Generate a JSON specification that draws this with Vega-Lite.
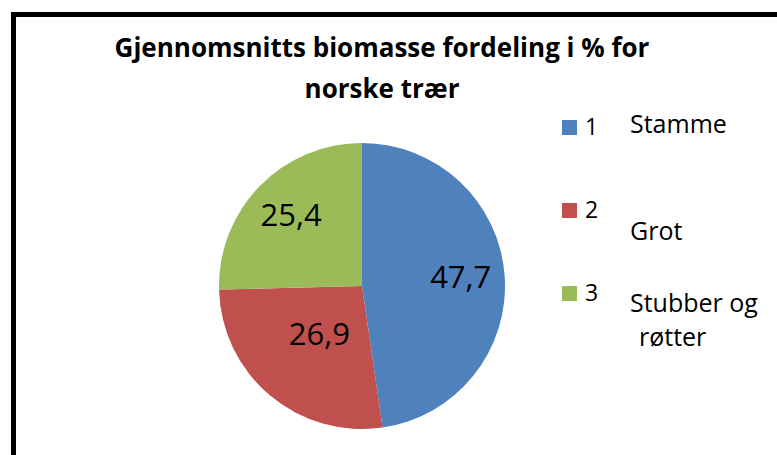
{
  "$schema": "https://vega.github.io/schema/vega-lite/v6.json",
  "autosize": {"type": "none"},
  "padding": {"left": 219, "top": 143, "right": 272, "bottom": 26},
  "width": 286,
  "height": 286,
  "background": "white",
  "title": {
    "text": ["Gjennomsnitts biomasse fordeling i % for", "norske trær"],
    "frame": "group",
    "font": "Open Sans",
    "fontSize": 26,
    "fontWeight": "bold",
    "color": "black",
    "lineHeight": 41,
    "anchor": "middle",
    "baseline": "alphabetic",
    "dx": 20,
    "offset": -112
  },
  "data": {
    "values": [
      {"n": "1", "name": "Stamme", "value": 47.7},
      {"n": "2", "name": "Grot", "value": 26.9},
      {"n": "3", "name": "Stubber og røtter", "value": 25.4}
    ]
  },
  "resolve": {"legend": {"fill": "independent", "shape": "independent", "strokeWidth": "independent"}},
  "layer": [
    {
      "mark": {"type": "arc", "outerRadius": 143},
      "encoding": {
        "theta": {"field": "value", "type": "quantitative", "stack": true},
        "order": {"field": "n", "type": "ordinal"},
        "fill": {
          "field": "n",
          "type": "nominal",
          "scale": {"domain": ["1", "2", "3"], "range": ["#4F81BD", "#C0504D", "#9BBB59"]},
          "legend": {
            "orient": "none",
            "legendX": 339,
            "legendY": -27,
            "title": null,
            "symbolType": "square",
            "symbolSize": 225,
            "symbolStrokeWidth": 0,
            "labelFont": "Open Sans",
            "labelFontSize": 23,
            "labelColor": "black",
            "labelOffset": 4,
            "rowPadding": 59
          }
        }
      }
    },
    {
      "mark": {"type": "text", "radius": 99, "font": "Open Sans", "fontSize": 31, "color": "black"},
      "encoding": {
        "theta": {"field": "value", "type": "quantitative", "stack": true},
        "order": {"field": "n", "type": "ordinal"},
        "text": {"condition": {"test": "datum.n !== '2'", "field": "value", "type": "quantitative", "format": ".1f"}, "value": ""}
      }
    },
    {
      "mark": {"type": "text", "radius": 66, "font": "Open Sans", "fontSize": 31, "color": "black"},
      "encoding": {
        "theta": {"field": "value", "type": "quantitative", "stack": true},
        "order": {"field": "n", "type": "ordinal"},
        "text": {"condition": {"test": "datum.n === '2'", "field": "value", "type": "quantitative", "format": ".1f"}, "value": ""}
      }
    },
    {
      "mark": {"type": "point", "opacity": 0, "color": "black"},
      "encoding": {
        "shape": {
          "field": "name",
          "type": "nominal",
          "sort": ["Stamme", "Grot", "Stubber og røtter"],
          "legend": {
            "orient": "none", "legendX": 386, "legendY": -31, "title": null,
            "values": ["Stamme"],
            "symbolSize": 1, "symbolOpacity": 0,
            "labelFont": "Open Sans", "labelFontSize": 25, "labelColor": "black",
            "labelOffset": 0, "labelLimit": 400
          }
        }
      }
    },
    {
      "mark": {"type": "point", "opacity": 0, "color": "black"},
      "encoding": {
        "shape": {
          "field": "name",
          "type": "nominal",
          "sort": ["Stamme", "Grot", "Stubber og røtter"],
          "legend": {
            "orient": "none", "legendX": 386, "legendY": 76, "title": null,
            "values": ["Grot"],
            "symbolSize": 1, "symbolOpacity": 0,
            "labelFont": "Open Sans", "labelFontSize": 25, "labelColor": "black",
            "labelOffset": 0, "labelLimit": 400
          }
        }
      }
    },
    {
      "mark": {"type": "point", "opacity": 0, "color": "black"},
      "encoding": {
        "shape": {
          "field": "name",
          "type": "nominal",
          "sort": ["Stamme", "Grot", "Stubber og røtter"],
          "legend": {
            "orient": "none", "legendX": 386, "legendY": 148, "title": null,
            "values": ["Stubber og røtter"],
            "labelExpr": "'Stubber og'",
            "symbolSize": 1, "symbolOpacity": 0,
            "labelFont": "Open Sans", "labelFontSize": 25, "labelColor": "black",
            "labelOffset": 0, "labelLimit": 400
          }
        }
      }
    },
    {
      "mark": {"type": "point", "opacity": 0, "color": "black"},
      "encoding": {
        "shape": {
          "field": "name",
          "type": "nominal",
          "sort": ["Stamme", "Grot", "Stubber og røtter"],
          "legend": {
            "orient": "none", "legendX": 395, "legendY": 182, "title": null,
            "values": ["Stubber og røtter"],
            "labelExpr": "'røtter'",
            "symbolSize": 1, "symbolOpacity": 0,
            "labelFont": "Open Sans", "labelFontSize": 25, "labelColor": "black",
            "labelOffset": 0, "labelLimit": 400
          }
        }
      }
    },
    {
      "mark": {"type": "point", "opacity": 0, "color": "black"},
      "encoding": {
        "strokeWidth": {
          "field": "value",
          "type": "quantitative",
          "scale": {"range": [5, 5]},
          "legend": {
            "orient": "none", "legendX": -208, "legendY": -131, "title": null,
            "values": [47.7],
            "padding": 0,
            "symbolType": "square",
            "symbolSize": 2560000,
            "symbolStrokeColor": "black",
            "symbolFillColor": "transparent",
            "symbolOpacity": 1,
            "labelExpr": "''"
          }
        }
      }
    }
  ],
  "config": {
    "view": {"stroke": null},
    "locale": {"number": {"decimal": ",", "thousands": " ", "grouping": [3], "currency": ["", " kr"]}}
  }
}
